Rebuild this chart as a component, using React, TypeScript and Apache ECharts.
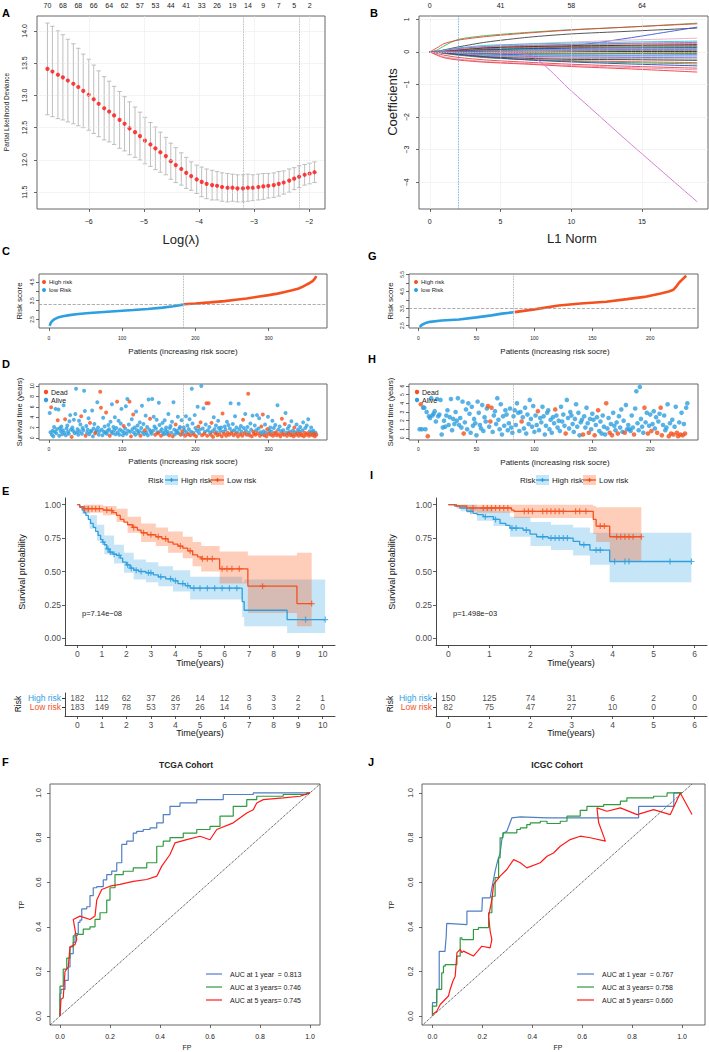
import React, { useEffect, useRef } from "react";
import * as echarts from "echarts";

const FONT = "'Liberation Sans', Arial, Helvetica, sans-serif";
const RED = "#F4511E";
const BLUE = "#2E9FDF";
const MINUS = "\u2212";

// ---------------- A : cross-validation ----------------
const logLambda = [
  -6.75, -6.66, -6.56, -6.47, -6.38, -6.28, -6.19, -6.1, -6.0, -5.91,
  -5.82, -5.72, -5.63, -5.54, -5.44, -5.35, -5.26, -5.16, -5.07, -4.98,
  -4.88, -4.79, -4.7, -4.6, -4.51, -4.42, -4.32, -4.23, -4.14, -4.04,
  -3.95, -3.86, -3.76, -3.67, -3.58, -3.48, -3.39, -3.3, -3.2, -3.11,
  -3.02, -2.92, -2.83, -2.74, -2.64, -2.55, -2.46, -2.36, -2.27, -2.18,
  -2.08, -1.99, -1.9,
];
const cvMean = [
  13.41, 13.37, 13.32, 13.28, 13.23, 13.18, 13.13, 13.07, 13.01, 12.94,
  12.87, 12.8, 12.75, 12.69, 12.62, 12.56, 12.49, 12.43, 12.37, 12.3,
  12.24, 12.18, 12.12, 12.06, 11.98, 11.92, 11.86, 11.8, 11.75, 11.7,
  11.66, 11.63, 11.61, 11.6, 11.58, 11.57, 11.57, 11.56, 11.56, 11.57,
  11.57, 11.58, 11.59, 11.6, 11.61, 11.63, 11.65, 11.68, 11.71, 11.74,
  11.77, 11.79, 11.81,
];
const cvSD = [
  0.71, 0.7, 0.68, 0.66, 0.64, 0.62, 0.6, 0.57, 0.55, 0.53,
  0.51, 0.49, 0.47, 0.45, 0.44, 0.42, 0.41, 0.39, 0.37, 0.36,
  0.34, 0.33, 0.31, 0.29, 0.28, 0.27, 0.25, 0.24, 0.22, 0.22,
  0.23, 0.23, 0.23, 0.22, 0.22, 0.22, 0.21, 0.21, 0.21, 0.21,
  0.2, 0.2, 0.2, 0.19, 0.19, 0.19, 0.18, 0.18, 0.17, 0.17,
  0.16, 0.16, 0.16,
];
const dfTop = ["70", "68", "68", "66", "64", "62", "57", "53", "44", "41", "33", "26", "19", "14", "9", "7", "5", "2"];
const aXTicks = [-6, -5, -4, -3, -2];
const aYTicks = [11.5, 12, 12.5, 13, 13.5, 14];
const lambdaMinLog = -3.2;
const lambda1seLog = -2.18;

// ---------------- B : coefficient paths ----------------
const l1Knots = [0, 0.5, 1, 2, 4, 7, 10, 14, 18.9];
const coefPaths = [
  [0, 0.05, 0.18, 0.38, 0.5, 0.6, 0.68, 0.76, 0.88],
  [0, 0.12, 0.25, 0.36, 0.47, 0.58, 0.67, 0.76, 0.86],
  [0, 0.02, 0.06, 0.15, 0.3, 0.45, 0.55, 0.63, 0.73],
  [0, 0, 0, 0.02, 0.06, 0.1, 0.18, 0.42, 0.76],
  [0, 0, 0.02, 0.08, 0.17, 0.25, 0.3, 0.36, 0.42],
  [0, 0.01, 0.05, 0.12, 0.2, 0.24, 0.27, 0.3, 0.33],
  [0, 0, 0.03, 0.1, 0.16, 0.2, 0.23, 0.26, 0.29],
  [0, 0, 0.02, 0.07, 0.14, 0.19, 0.21, 0.24, 0.26],
  [0, 0, 0.01, 0.05, 0.12, 0.16, 0.18, 0.2, 0.22],
  [0, 0, 0.01, 0.04, 0.1, 0.14, 0.16, 0.18, 0.19],
  [0, 0, 0, 0.03, 0.08, 0.11, 0.13, 0.15, 0.16],
  [0, 0, 0, 0.02, 0.06, 0.09, 0.11, 0.12, 0.13],
  [0, 0, 0, 0.01, 0.04, 0.07, 0.08, 0.09, 0.1],
  [0, 0, 0, 0.01, 0.03, 0.05, 0.06, 0.07, 0.07],
  [0, 0, 0, 0, 0.02, 0.03, 0.04, 0.04, 0.04],
  [0, 0, 0, 0, -0.01, -0.01, 0, 0.01, 0.01],
  [0, 0, 0, -0.01, -0.03, -0.04, -0.04, -0.03, -0.02],
  [0, 0, 0, -0.02, -0.05, -0.06, -0.06, -0.05, -0.05],
  [0, 0, -0.01, -0.03, -0.07, -0.09, -0.1, -0.1, -0.09],
  [0, 0, -0.01, -0.04, -0.09, -0.12, -0.13, -0.13, -0.13],
  [0, 0, -0.01, -0.05, -0.11, -0.14, -0.16, -0.17, -0.18],
  [0, 0, -0.02, -0.06, -0.12, -0.17, -0.2, -0.21, -0.22],
  [0, -0.01, -0.03, -0.08, -0.15, -0.2, -0.23, -0.24, -0.26],
  [0, -0.01, -0.04, -0.09, -0.17, -0.23, -0.27, -0.3, -0.33],
  [0, -0.01, -0.05, -0.1, -0.18, -0.24, -0.29, -0.33, -0.37],
  [0, 0, -0.03, -0.08, -0.16, -0.25, -0.31, -0.37, -0.43],
  [0, -0.05, -0.1, -0.17, -0.25, -0.32, -0.38, -0.44, -0.5],
  [0, -0.08, -0.15, -0.22, -0.3, -0.36, -0.42, -0.48, -0.55],
  [0, -0.1, -0.18, -0.25, -0.32, -0.38, -0.45, -0.52, -0.62],
  [0, 0, 0, 0, -0.02, -0.1, -1.2, -2.75, -4.6],
];
const coefColors = [
  "#3DB84A", "#E8403A", "#444444", "#3355DD", "#E8A8C0", "#2BBEDD", "#B94FC0", "#9A9A9A",
  "#111111", "#E03A3A", "#2E9E3E", "#1F2F9F", "#27B3D3", "#C050C0", "#888888", "#222222",
  "#E0453F", "#2F9A3A", "#3050D0", "#30C0E0", "#B050B8", "#A0A0A0", "#333333", "#E64A4A",
  "#35A845", "#2A3FB8", "#EE4040", "#E090C0", "#F03838", "#D070D0",
];
const bXTicks = [0, 5, 10, 15];
const bYTicks = [-4, -3, -2, -1, 0, 1];
const l1TopAt = [0, 5, 10, 15];
const l1TopLabels = ["0", "41", "58", "64"];
const l1Selected = 2.0;

// ---------------- C / G : risk score curves ----------------
const tcgaLowScore = [[1, 2.15], [2, 2.28], [4, 2.4], [7, 2.5], [12, 2.6], [19, 2.67], [28, 2.73], [40, 2.79], [55, 2.84], [75, 2.9], [95, 2.95], [115, 3.0], [135, 3.06], [155, 3.13], [170, 3.2], [183, 3.29]];
const tcgaHighScore = [[184, 3.31], [200, 3.35], [220, 3.41], [240, 3.48], [255, 3.55], [270, 3.62], [285, 3.71], [300, 3.8], [312, 3.88], [322, 3.97], [332, 4.06], [340, 4.14], [346, 4.24], [351, 4.35], [356, 4.45], [360, 4.55], [363, 4.68], [365, 4.82]];
const tcgaCut = 3.3;
const tcgaSplit = 183;
const icgcLowScore = [[1, 2.42], [3, 2.55], [6, 2.65], [10, 2.72], [20, 2.8], [35, 2.86], [50, 2.98], [63, 3.1], [72, 3.2], [82, 3.28]];
const icgcHighScore = [[83, 3.29], [100, 3.45], [121, 3.68], [140, 3.79], [162, 3.9], [180, 4.05], [195, 4.18], [209, 4.38], [216, 4.5], [220, 4.6], [222, 4.75], [225, 5.02], [228, 5.22], [231, 5.42]];
const icgcCut = 3.5;
const icgcSplit = 82;

// ---------------- D / H : survival status ----------------
const tcgaTime = [
  4.8, 1.1, 5.9, 0.6, 1.4, 0.3, 2.1, 1.2, 5.6, 0.9, 1.7, 3.4, 5.5, 0.4, 1.9, 1.3, 2.2, 0.7, 1.5, 6.3,
  1.0, 3.6, 0.5, 1.8, 2.4, 1.2, 0.8, 3.2, 4.4, 1.6, 0.2, 2.0, 1.4, 3.5, 0.9, 4.6, 9.5, 1.1, 1.7, 0.6,
  3.3, 1.3, 2.6, 4.2, 0.8, 1.9, 1.5, 9.1, 5.2, 0.4, 2.3, 1.0, 1.6, 3.8, 0.7, 2.9, 1.2, 1.4, 5.3, 0.3,
  1.8, 2.7, 0.9, 1.1, 1.5, 6.9, 2.0, 0.6, 1.3, 8.9, 5.8, 1.6, 0.5, 3.9, 1.2, 2.2, 1.0, 4.9, 0.8, 1.4,
  2.5, 1.7, 0.4, 3.1, 1.2, 6.5, 0.9, 2.1, 1.5, 4.0, 0.7, 1.9, 7.0, 1.1, 3.3, 0.6, 1.6, 2.8, 5.6, 1.3,
  0.5, 2.3, 1.0, 1.8, 6.1, 0.8, 7.5, 1.4, 2.6, 7.0, 1.2, 0.3, 3.6, 1.7, 4.5, 1.0, 2.0, 0.6, 5.1, 1.5,
  2.4, 0.9, 1.3, 3.0, 0.4, 1.9, 6.2, 1.1, 2.7, 0.7, 1.5, 4.3, 1.0, 2.1, 0.5, 7.4, 1.6, 3.7, 1.2, 0.8,
  7.5, 1.4, 4.1, 2.2, 0.6, 1.8, 3.5, 1.1, 0.9, 6.8, 2.5, 1.3, 0.4, 1.7, 2.9, 1.0, 0.7, 3.4, 1.5, 2.0,
  0.8, 1.2, 4.6, 0.5, 1.9, 2.3, 1.0, 3.1, 0.3, 6.9, 1.6, 0.7, 2.6, 1.4, 1.1, 4.1, 0.9, 1.8, 2.1, 0.6,
  3.4, 1.3, 0.8, 2.0, 1.5, 0.4, 4.2, 1.1, 2.4, 0.7, 1.7, 3.6, 0.5, 1.2, 9.5, 2.8, 1.0, 0.6, 4.4, 1.9,
  0.3, 1.4, 6.0, 2.2, 0.9, 1.6, 3.0, 10.0, 0.5, 1.8, 5.7, 0.8, 1.2, 2.6, 6.7, 0.4, 1.5, 6.7, 2.1, 1.0,
  0.6, 2.9, 1.3, 0.2, 4.0, 1.7, 0.9, 2.4, 1.1, 0.5, 3.3, 1.9, 0.7, 1.4, 2.0, 0.3, 4.7, 1.2, 0.8, 2.2,
  1.6, 0.4, 3.1, 1.0, 2.5, 0.6, 1.8, 6.7, 0.9, 1.3, 2.7, 0.5, 1.5, 4.2, 0.8, 2.0, 1.1, 0.3, 6.6, 1.7,
  0.7, 2.3, 1.2, 0.4, 3.5, 1.9, 0.9, 4.6, 1.4, 0.6, 2.1, 8.5, 1.0, 0.5, 2.8, 1.6, 0.3, 4.3, 1.2, 0.8,
  2.4, 0.6, 1.5, 4.4, 0.9, 1.8, 3.8, 0.4, 1.1, 2.2, 0.7, 4.5, 1.3, 0.5, 2.6, 1.0, 0.3, 1.7, 4.1, 0.8,
  1.4, 2.0, 0.6, 1.2, 3.3, 0.4, 1.9, 0.9, 2.5, 1.1, 0.5, 6.3, 1.6, 0.7, 2.2, 0.3, 1.3, 3.7, 0.8, 1.5,
  0.6, 2.7, 4.8, 1.0, 0.4, 1.8, 0.9, 2.3, 1.2, 0.5, 3.2, 0.7, 1.4, 0.3, 2.0, 1.1, 0.6, 2.6, 0.9, 1.6,
  0.4, 1.2, 2.1, 0.8, 0.5, 1.5, 3.0, 0.3, 1.0, 1.9, 0.6, 2.4, 0.9, 3.6, 0.4, 1.3, 0.7, 2.0, 1.1, 0.5,
  1.4, 0.8, 0.3, 1.0, 0.6,
];
const tcgaDead = [
  3, 12, 22, 31, 44, 50, 56, 63, 70, 71, 78, 83, 93, 102, 110, 112, 115, 125, 131, 138, 145, 149, 153,
  164, 169, 173, 180, 182, 186, 190, 193, 198, 201, 204, 207, 209, 212, 215, 216, 218, 221, 222, 224,
  227, 230, 233, 236, 237, 239, 242, 244, 246, 249, 252, 255, 258, 261, 264, 265, 267, 270, 272, 274,
  277, 279, 280, 282, 285, 288, 290, 292, 294, 297, 298, 300, 303, 306, 308, 310, 311, 314, 316, 318,
  319, 321, 322, 325, 327, 330, 332, 334, 335, 337, 339, 341, 344, 345, 348, 349, 351, 353, 355, 357,
  360, 362, 363, 365,
];
const icgcTime = [
  1.0, 3.9, 1.0, 3.5, 3.5, 1.0, 3.0, 0.2, 2.5, 2.3, 4.6, 2.6, 2.8, 3.1, 1.9, 4.5, 2.5, 2.7, 4.4, 0.4,
  1.2, 2.0, 1.3, 2.6, 3.2, 1.5, 2.4, 4.5, 0.9, 2.2, 1.6, 3.0, 2.0, 4.6, 1.5, 2.3, 1.2, 4.2, 0.5, 1.8,
  3.3, 1.0, 4.0, 2.8, 0.6, 3.6, 1.4, 2.2, 1.7, 0.3, 4.2, 2.9, 1.5, 1.1, 3.8, 0.8, 2.4, 1.9, 3.4, 3.7,
  1.3, 1.9, 3.5, 0.7, 2.6, 3.1, 1.6, 4.6, 2.1, 1.0, 3.9, 0.4, 2.5, 1.4, 3.2, 2.7, 0.9, 1.7, 3.4, 1.2,
  0.6, 2.5, 3.2, 1.5, 4.0, 2.9, 0.8, 3.0, 1.9, 2.4, 1.1, 3.5, 0.5, 2.7, 1.6, 4.4, 2.2, 1.3, 3.7, 0.7,
  2.6, 1.5, 3.1, 0.9, 2.3, 1.8, 3.6, 2.5, 0.4, 1.4, 2.9, 3.2, 1.0, 2.1, 0.6, 2.4, 1.7, 3.3, 2.6, 1.2,
  2.0, 0.8, 3.6, 1.9, 2.7, 1.4, 0.5, 4.4, 2.3, 1.1, 3.0, 2.6, 1.6, 0.7, 2.2, 3.9, 1.3, 2.9, 0.3, 1.8,
  2.1, 0.4, 2.5, 1.2, 3.5, 1.7, 0.6, 2.2, 1.0, 2.8, 2.1, 0.3, 1.5, 2.4, 3.2, 0.8, 1.9, 0.5, 2.6, 1.3,
  0.4, 4.0, 1.1, 2.3, 0.6, 1.6, 0.3, 2.9, 1.4, 0.9, 1.8, 0.5, 2.5, 1.2, 3.3, 0.7, 2.0, 0.6, 3.8, 1.0,
  1.5, 1.0, 0.8, 2.6, 1.2, 0.4, 3.4, 5.4, 1.7, 0.9, 5.9, 2.2, 1.3, 0.6, 3.5, 1.8, 2.9, 0.5, 1.4, 2.7,
  0.8, 1.6, 3.1, 1.1, 2.4, 0.6, 1.9, 2.8, 3.5, 0.3, 1.5, 2.6, 0.9, 1.2, 3.9, 0.2, 1.7, 0.5, 2.1, 0.4,
  1.3, 3.6, 0.6, 0.2, 1.8, 0.4, 2.9, 0.3, 1.6, 0.5, 3.5, 4.0,
];
const icgcDead = [
  2, 8, 39, 60, 62, 63, 89, 103, 118, 127, 142, 147, 152, 155, 162, 165, 167, 172, 178, 186, 195,
  198, 201, 206, 209, 210, 216, 218, 220, 223, 224, 226, 228, 230,
];

// ---------------- E / I : Kaplan-Meier ----------------
const tcgaHighKM = [[0, 1], [0.1, 0.98], [0.2, 0.96], [0.27, 0.94], [0.35, 0.92], [0.45, 0.89], [0.54, 0.86], [0.65, 0.83], [0.75, 0.8], [0.85, 0.77], [0.95, 0.74], [1.02, 0.72], [1.1, 0.7], [1.2, 0.67], [1.3, 0.645], [1.45, 0.63], [1.6, 0.62], [1.75, 0.6], [1.85, 0.57], [2.0, 0.55], [2.15, 0.525], [2.3, 0.51], [2.5, 0.5], [2.8, 0.49], [3.1, 0.475], [3.3, 0.46], [3.6, 0.445], [3.9, 0.43], [4.1, 0.41], [4.4, 0.395], [4.6, 0.375], [6.72, 0.275], [6.8, 0.21], [8.55, 0.14], [10.1, 0.14]];
const tcgaLowKM = [[0, 1], [0.1, 0.985], [0.25, 0.97], [1.05, 0.96], [1.3, 0.955], [1.45, 0.94], [1.6, 0.92], [1.75, 0.89], [1.9, 0.87], [2.05, 0.85], [2.25, 0.83], [2.45, 0.81], [2.6, 0.79], [2.85, 0.775], [3.2, 0.76], [3.45, 0.745], [3.7, 0.72], [3.9, 0.705], [4.1, 0.69], [4.3, 0.675], [4.5, 0.655], [4.7, 0.625], [4.9, 0.61], [5.05, 0.595], [5.8, 0.52], [6.95, 0.39], [8.95, 0.26], [9.55, 0.26]];
const tcgaHighCens = [[1.05, 0.72], [1.25, 0.67], [1.35, 0.645], [1.5, 0.63], [1.7, 0.62], [2.05, 0.55], [2.2, 0.525], [2.4, 0.51], [2.6, 0.5], [2.9, 0.49], [3.0, 0.49], [3.4, 0.46], [3.8, 0.445], [4.0, 0.43], [4.3, 0.41], [4.5, 0.395], [4.75, 0.375], [5.0, 0.375], [5.3, 0.375], [5.6, 0.375], [5.9, 0.375], [6.2, 0.375], [6.5, 0.375], [9.3, 0.14], [10.1, 0.14]];
const tcgaLowCens = [[0.3, 0.97], [0.45, 0.97], [0.6, 0.97], [0.75, 0.97], [0.9, 0.97], [1.2, 0.96], [1.4, 0.955], [2.3, 0.83], [2.7, 0.79], [3.0, 0.775], [3.3, 0.76], [3.6, 0.745], [4.2, 0.69], [4.6, 0.655], [5.1, 0.595], [5.3, 0.595], [5.5, 0.595], [5.9, 0.52], [6.1, 0.52], [6.3, 0.52], [6.6, 0.52], [7.55, 0.39], [9.55, 0.26]];
const tcgaHighBand = [[0, 1, 1], [0.2, 0.93, 0.99], [0.5, 0.82, 0.92], [0.8, 0.73, 0.85], [1.1, 0.63, 0.77], [1.5, 0.56, 0.7], [1.9, 0.49, 0.64], [2.3, 0.44, 0.59], [2.8, 0.42, 0.57], [3.3, 0.39, 0.54], [3.9, 0.35, 0.51], [4.6, 0.29, 0.46], [6.72, 0.16, 0.42], [6.8, 0.09, 0.44], [8.55, 0.04, 0.44], [10.1, 0.04, 0.44]];
const tcgaLowBand = [[0, 1, 1], [0.25, 0.94, 1.0], [1.05, 0.92, 0.99], [1.6, 0.87, 0.97], [2.05, 0.79, 0.91], [2.6, 0.72, 0.86], [3.2, 0.69, 0.83], [3.7, 0.64, 0.8], [4.3, 0.6, 0.76], [4.7, 0.54, 0.72], [5.05, 0.5, 0.69], [5.8, 0.41, 0.65], [6.95, 0.19, 0.62], [8.95, 0.09, 0.64], [9.55, 0.09, 0.64]];
const icgcHighKM = [[0, 1], [0.15, 0.99], [0.28, 0.975], [0.45, 0.95], [0.6, 0.935], [0.7, 0.925], [0.85, 0.91], [1.1, 0.89], [1.26, 0.86], [1.4, 0.845], [1.5, 0.825], [1.82, 0.81], [1.99, 0.78], [2.15, 0.76], [2.43, 0.75], [3.04, 0.725], [3.2, 0.7], [3.45, 0.66], [3.93, 0.575], [5.92, 0.575]];
const icgcLowKM = [[0, 1], [0.2, 0.99], [0.45, 0.975], [1.54, 0.96], [1.6, 0.95], [3.53, 0.89], [3.6, 0.84], [3.93, 0.76], [4.7, 0.76]];
const icgcHighCens = [[0.55, 0.95], [0.9, 0.91], [1.15, 0.89], [1.55, 0.825], [1.65, 0.825], [1.9, 0.81], [2.3, 0.76], [2.5, 0.75], [2.6, 0.75], [2.7, 0.75], [2.8, 0.75], [2.9, 0.75], [3.3, 0.7], [3.6, 0.66], [3.7, 0.66], [4.05, 0.575], [4.3, 0.575], [4.4, 0.575], [5.4, 0.575], [5.92, 0.575]];
const icgcLowCens = [[0.6, 0.975], [0.85, 0.975], [0.95, 0.975], [1.05, 0.975], [1.15, 0.975], [1.25, 0.975], [1.35, 0.975], [1.45, 0.975], [1.85, 0.95], [1.95, 0.95], [2.05, 0.95], [2.3, 0.95], [2.4, 0.95], [2.5, 0.95], [2.6, 0.95], [2.7, 0.95], [2.8, 0.95], [3.1, 0.95], [3.2, 0.95], [3.35, 0.95], [3.7, 0.84], [3.8, 0.84], [4.1, 0.76], [4.2, 0.76], [4.3, 0.76], [4.4, 0.76], [4.5, 0.76], [4.7, 0.76]];
const icgcHighBand = [[0, 1, 1], [0.3, 0.95, 1.0], [0.7, 0.88, 0.98], [1.1, 0.84, 0.95], [1.5, 0.76, 0.91], [2.0, 0.69, 0.87], [2.5, 0.66, 0.85], [3.04, 0.62, 0.83], [3.45, 0.55, 0.79], [3.93, 0.42, 0.79], [5.92, 0.42, 0.79]];
const icgcLowBand = [[0, 1, 1], [0.2, 0.97, 1.0], [0.45, 0.94, 1.0], [1.6, 0.9, 1.0], [3.53, 0.78, 0.99], [3.6, 0.72, 0.98], [3.93, 0.58, 0.98], [4.7, 0.58, 0.98]];
const tcgaP = "p=7.14e\u221208";
const icgcP = "p=1.498e\u221203";

const tcgaTableTimes = [0, 1, 2, 3, 4, 5, 6, 7, 8, 9, 10];
const tcgaHighRisk = [182, 112, 62, 37, 26, 14, 12, 3, 3, 2, 1];
const tcgaLowRisk = [183, 149, 78, 53, 37, 26, 14, 6, 3, 2, 0];
const icgcTableTimes = [0, 1, 2, 3, 4, 5, 6];
const icgcHighRisk = [150, 125, 74, 31, 6, 2, 0];
const icgcLowRisk = [82, 75, 47, 27, 10, 0, 0];
const kmYTicks = [0, 0.25, 0.5, 0.75, 1];

// ---------------- F / J : ROC ----------------
const tcgaRoc1 = [[0, 0], [0, 0.045], [0.004, 0.1], [0.02, 0.12], [0.033, 0.16], [0.04, 0.22], [0.053, 0.28], [0.06, 0.33], [0.073, 0.37], [0.08, 0.42], [0.087, 0.43], [0.107, 0.48], [0.12, 0.49], [0.133, 0.54], [0.147, 0.575], [0.173, 0.58], [0.187, 0.61], [0.207, 0.634], [0.227, 0.65], [0.247, 0.687], [0.267, 0.769], [0.293, 0.784], [0.307, 0.82], [0.333, 0.828], [0.36, 0.836], [0.387, 0.843], [0.413, 0.866], [0.44, 0.903], [0.48, 0.94], [0.547, 0.955], [0.587, 0.97], [0.653, 0.97], [0.68, 0.993], [0.773, 0.993], [0.81, 1.0], [1, 1]];
const tcgaRoc3 = [[0, 0], [0, 0.07], [0.013, 0.134], [0.027, 0.21], [0.04, 0.26], [0.053, 0.31], [0.069, 0.36], [0.093, 0.366], [0.12, 0.39], [0.14, 0.4], [0.16, 0.433], [0.187, 0.463], [0.2, 0.52], [0.22, 0.575], [0.253, 0.634], [0.293, 0.649], [0.347, 0.664], [0.387, 0.687], [0.413, 0.761], [0.44, 0.784], [0.493, 0.8], [0.547, 0.82], [0.6, 0.836], [0.64, 0.85], [0.693, 0.896], [0.747, 0.94], [0.787, 0.97], [0.893, 0.985], [0.987, 0.993], [1, 1]];
const tcgaRoc5 = [[0, 0], [0.004, 0.075], [0.013, 0.082], [0.02, 0.2], [0.033, 0.22], [0.04, 0.31], [0.06, 0.32], [0.067, 0.343], [0.053, 0.433], [0.08, 0.448], [0.12, 0.433], [0.14, 0.448], [0.147, 0.52], [0.167, 0.567], [0.2, 0.582], [0.24, 0.59], [0.293, 0.604], [0.347, 0.612], [0.387, 0.627], [0.407, 0.672], [0.44, 0.724], [0.46, 0.776], [0.507, 0.791], [0.56, 0.806], [0.6, 0.79], [0.627, 0.836], [0.693, 0.866], [0.747, 0.91], [0.773, 0.925], [0.787, 0.955], [0.813, 0.97], [0.893, 0.978], [0.96, 0.985], [1, 1]];
const icgcRoc1 = [[0, 0], [0, 0.06], [0.017, 0.06], [0.017, 0.12], [0.027, 0.12], [0.027, 0.29], [0.05, 0.29], [0.055, 0.358], [0.057, 0.415], [0.138, 0.41], [0.138, 0.47], [0.198, 0.47], [0.2, 0.53], [0.231, 0.53], [0.238, 0.575], [0.251, 0.65], [0.262, 0.7], [0.271, 0.73], [0.278, 0.79], [0.285, 0.82], [0.298, 0.828], [0.318, 0.888], [0.352, 0.893], [0.459, 0.888], [0.592, 0.888], [0.826, 0.888], [0.826, 0.94], [0.967, 0.94], [0.967, 1.0], [1, 1]];
const icgcRoc3 = [[0, 0], [0, 0.015], [0.017, 0.045], [0.037, 0.12], [0.044, 0.194], [0.051, 0.224], [0.098, 0.231], [0.111, 0.269], [0.118, 0.351], [0.164, 0.343], [0.184, 0.388], [0.225, 0.396], [0.238, 0.463], [0.251, 0.537], [0.265, 0.62], [0.271, 0.709], [0.282, 0.799], [0.305, 0.821], [0.338, 0.821], [0.352, 0.836], [0.378, 0.843], [0.392, 0.858], [0.432, 0.866], [0.459, 0.873], [0.512, 0.863], [0.539, 0.873], [0.592, 0.896], [0.619, 0.922], [0.686, 0.94], [0.753, 0.948], [0.779, 0.963], [0.833, 0.978], [0.886, 0.978], [0.94, 0.985], [0.967, 1.0], [1, 1]];
const icgcRoc5 = [[0, 0.007], [0.017, 0.022], [0.031, 0.052], [0.064, 0.09], [0.071, 0.12], [0.082, 0.157], [0.091, 0.179], [0.098, 0.284], [0.111, 0.299], [0.118, 0.284], [0.124, 0.291], [0.164, 0.269], [0.198, 0.313], [0.231, 0.306], [0.238, 0.343], [0.231, 0.381], [0.225, 0.448], [0.238, 0.522], [0.245, 0.59], [0.271, 0.627], [0.298, 0.657], [0.325, 0.701], [0.352, 0.687], [0.378, 0.664], [0.432, 0.687], [0.459, 0.716], [0.485, 0.731], [0.512, 0.761], [0.552, 0.791], [0.592, 0.806], [0.632, 0.799], [0.693, 0.784], [0.666, 0.866], [0.659, 0.933], [0.699, 0.918], [0.753, 0.933], [0.82, 0.903], [0.886, 0.925], [0.953, 0.903], [0.993, 1.0], [1.04, 0.903]];
const tcgaAuc = ["AUC at 1 year  = 0.813", "AUC at 3 years= 0.746", "AUC at 5 years= 0.745"];
const icgcAuc = ["AUC at 1 year  = 0.767", "AUC at 3 years= 0.758", "AUC at 5 years= 0.660"];
const rocTicks = [0, 0.2, 0.4, 0.6, 0.8, 1.0];
const ROC_COLORS = ["#4F7FC4", "#2E9B3E", "#FF1A1A"];

function buildOption() {
  const pm = (v: number) => (v < 0 ? MINUS + Math.abs(v) : String(v));

  const rAxis = (gi: number, min: number, max: number, ticks: number[], o: any = {}) => {
    const ax: any = {
      type: "value", gridIndex: gi, min, max,
      axisLine: { show: false, onZero: false },
      splitLine: { show: false },
      axisTick: { show: o.tick !== false, customValues: ticks, length: o.tickLen ?? 3, lineStyle: { color: "#444", width: 0.8 } },
      axisLabel: { customValues: o.labels ?? ticks, fontSize: o.fs ?? 7, color: "#222", margin: o.margin ?? 8, fontFamily: FONT, rotate: o.rotate ?? 0, hideOverlap: false },
    };
    if (o.fmt) ax.axisLabel.formatter = o.fmt;
    if (o.position) ax.position = o.position;
    return ax;
  };
  const topAxis = (gi: number, min: number, max: number, at: number[], labels: string[]) => ({
    type: "value", gridIndex: gi, min, max, position: "top",
    axisLine: { show: false, onZero: false }, splitLine: { show: false }, axisTick: { show: false },
    axisLabel: {
      customValues: at, fontSize: 7, color: "#222", margin: 7, fontFamily: FONT, hideOverlap: false,
      formatter: (v: number) => {
        const i = at.findIndex((a) => Math.abs(a - v) < 1e-6);
        return i >= 0 ? labels[i] : "";
      },
    },
  });
  const kAxis = (gi: number, min: number, max: number, ticks: number[], o: any = {}) => {
    const ax: any = {
      type: "value", gridIndex: gi, min, max,
      axisLine: { show: true, onZero: false, lineStyle: { color: "#333", width: 0.9 } },
      splitLine: { show: false },
      axisTick: { show: true, customValues: ticks, length: 3, lineStyle: { color: "#333", width: 0.8 } },
      axisLabel: { customValues: ticks, fontSize: 8.5, color: "#4D4D4D", margin: o.margin ?? 4, fontFamily: FONT, hideOverlap: false },
    };
    if (o.fmt) ax.axisLabel.formatter = o.fmt;
    return ax;
  };
  const tableY = (gi: number) => ({
    type: "value", gridIndex: gi, min: 0, max: 2.6,
    axisLine: { show: true, onZero: false, lineStyle: { color: "#333", width: 0.9 } },
    axisTick: { show: true, customValues: [1, 2], length: 3, lineStyle: { color: "#333" } },
    splitLine: { show: false },
    axisLabel: {
      customValues: [1, 2], margin: 4, fontFamily: FONT, fontSize: 8.5,
      formatter: (v: number) => (v === 2 ? "{h|High risk}" : "{l|Low risk}"),
      rich: { h: { color: BLUE, fontSize: 8.5, fontFamily: FONT }, l: { color: RED, fontSize: 8.5, fontFamily: FONT } },
    },
  });

  const boxed = { show: true, borderColor: "#666", borderWidth: 1, backgroundColor: "transparent" };
  const grid = [
    { left: 37, top: 16, width: 288, height: 193, ...boxed },
    { left: 419, top: 16, width: 289, height: 193, ...boxed },
    { left: 39, top: 274, width: 288, height: 54, ...boxed },
    { left: 409, top: 274, width: 289, height: 54, ...boxed },
    { left: 39, top: 384, width: 288, height: 56, ...boxed },
    { left: 409, top: 384, width: 289, height: 56, ...boxed },
    { left: 65, top: 498, width: 270, height: 147 },
    { left: 436, top: 498, width: 271, height: 147 },
    { left: 65, top: 693, width: 270, height: 23 },
    { left: 436, top: 693, width: 271, height: 23 },
    { left: 50, top: 784, width: 270, height: 241, ...boxed },
    { left: 422, top: 784, width: 283, height: 241, ...boxed },
  ];

  const dfTopAt = dfTop.map((_, i) => logLambda[i * 3]);
  const f1 = (v: number) => v.toFixed(1);
  const f2 = (v: number) => v.toFixed(2);

  const xAxis = [
    rAxis(0, -6.94, -1.71, aXTicks, { fmt: pm, margin: 9 }),
    topAxis(0, -6.94, -1.71, dfTopAt, dfTop),
    rAxis(1, -0.76, 19.66, bXTicks, { margin: 9 }),
    topAxis(1, -0.76, 19.66, l1TopAt, l1TopLabels),
    rAxis(2, -13.6, 379.6, [0, 100, 200, 300], { fs: 5, margin: 7 }),
    rAxis(3, -8.2, 241.2, [0, 50, 100, 150, 200], { fs: 5, margin: 7 }),
    rAxis(4, -13.6, 379.6, [0, 100, 200, 300], { fs: 5, margin: 6 }),
    rAxis(5, -8.2, 241.2, [0, 50, 100, 150, 200], { fs: 5, margin: 6 }),
    kAxis(6, -0.5, 10.5, tcgaTableTimes),
    kAxis(7, -0.3, 6.3, icgcTableTimes),
    kAxis(8, -0.5, 10.5, tcgaTableTimes),
    kAxis(9, -0.3, 6.3, icgcTableTimes),
    rAxis(10, -0.04, 1.04, rocTicks, { fmt: f1, margin: 8 }),
    rAxis(11, -0.042, 1.092, rocTicks, { fmt: f1, margin: 8 }),
  ];
  const yAxis = [
    rAxis(0, 11.24, 14.23, aYTicks, { rotate: 90, fmt: f1, margin: 9 }),
    rAxis(1, -4.82, 1.1, bYTicks, { rotate: 90, fmt: pm, margin: 9 }),
    rAxis(2, 2.04, 4.93, [2.5, 3, 3.5, 4, 4.5], { labels: [2.5, 3.5, 4.5], rotate: 90, fs: 5, margin: 5, fmt: f1 }),
    rAxis(3, 2.36, 5.52, [2.5, 3, 3.5, 4, 4.5, 5, 5.5], { labels: [2.5, 3.5, 4.5, 5.5], rotate: 90, fs: 5, margin: 5, fmt: f1 }),
    rAxis(4, -0.4, 10.4, [0, 2, 4, 6, 8, 10], { rotate: 90, fs: 5, margin: 5 }),
    rAxis(5, -0.24, 6.24, [0, 1, 2, 3, 4, 5, 6], { rotate: 90, fs: 5, margin: 5 }),
    kAxis(6, -0.05, 1.05, kmYTicks, { fmt: f2 }),
    kAxis(7, -0.05, 1.05, kmYTicks, { fmt: f2 }),
    tableY(8),
    tableY(9),
    rAxis(10, -0.04, 1.04, rocTicks, { rotate: 90, fmt: f1, margin: 8 }),
    rAxis(11, -0.04, 1.04, rocTicks, { rotate: 90, fmt: f1, margin: 8 }),
  ];

  const vline = (x: number, color: string, type = "dotted", width = 0.8) => ({ xAxis: x, lineStyle: { color, type, width } });
  const hline = (y: number, color: string, type = "dotted", width = 0.8) => ({ yAxis: y, lineStyle: { color, type, width } });
  const mark = (data: any[]) => ({ silent: true, symbol: ["none", "none"], label: { show: false }, lineStyle: { color: "#ddd", type: "dotted", width: 0.8 }, emphasis: { disabled: true }, data });

  const series: any[] = [];

  // A
  series.push({
    type: "custom", xAxisIndex: 0, yAxisIndex: 0, silent: true, z: 3,
    data: logLambda.map((x, i) => [x, cvMean[i] + cvSD[i], cvMean[i] - cvSD[i]]),
    encode: { x: 0, y: [1, 2] },
    renderItem: (params: any, api: any) => {
      const x = api.value(0);
      const p1 = api.coord([x, api.value(1)]);
      const p2 = api.coord([x, api.value(2)]);
      const w = 2.2;
      const st = { stroke: "#B8B8B8", lineWidth: 0.9 };
      return {
        type: "group",
        children: [
          { type: "line", shape: { x1: p1[0], y1: p1[1], x2: p2[0], y2: p2[1] }, style: st },
          { type: "line", shape: { x1: p1[0] - w, y1: p1[1], x2: p1[0] + w, y2: p1[1] }, style: st },
          { type: "line", shape: { x1: p2[0] - w, y1: p2[1], x2: p2[0] + w, y2: p2[1] }, style: st },
        ],
      };
    },
  });
  series.push({
    type: "scatter", xAxisIndex: 0, yAxisIndex: 0, symbolSize: 4.2, z: 4, silent: true,
    itemStyle: { color: "#FF1010" },
    data: logLambda.map((x, i) => [x, cvMean[i]]),
    markLine: mark([
      ...aXTicks.map((x) => vline(x, "#E2E2E2")),
      ...aYTicks.map((y) => hline(y, "#E2E2E2")),
      vline(lambdaMinLog, "#9A9A9A"),
      vline(lambda1seLog, "#9A9A9A"),
    ]),
  });

  // B
  coefPaths.forEach((p, k) => {
    const s: any = {
      type: "line", xAxisIndex: 2, yAxisIndex: 1, showSymbol: false, silent: true, smooth: 0.25,
      lineStyle: { color: coefColors[k], width: 0.9 },
      data: l1Knots.map((x, i) => [x, p[i]]),
    };
    if (k === 0) {
      s.markLine = mark([
        ...bXTicks.map((x) => vline(x, "#E2E2E2")),
        ...bYTicks.map((y) => hline(y, "#E2E2E2")),
        vline(l1Selected, "#4A90D9"),
      ]);
    }
    series.push(s);
  });

  // C & G
  const scoreLine = (xi: number, yi: number, data: number[][], color: string, ml?: any) => {
    const s: any = { type: "line", xAxisIndex: xi, yAxisIndex: yi, data, showSymbol: false, silent: true, lineStyle: { color, width: 2.6 } };
    if (ml) s.markLine = ml;
    return s;
  };
  series.push(scoreLine(4, 2, tcgaLowScore, BLUE, mark([vline(tcgaSplit, "#999"), hline(tcgaCut, "#999", "dashed")])));
  series.push(scoreLine(4, 2, tcgaHighScore, RED));
  series.push(scoreLine(5, 3, icgcLowScore, BLUE, mark([vline(icgcSplit, "#999"), hline(icgcCut, "#999", "dashed")])));
  series.push(scoreLine(5, 3, icgcHighScore, RED));

  // D & H
  const statusPts = (times: number[], dead: number[], wantDead: boolean) => {
    const set = new Set(dead);
    return times.map((t, i) => [i + 1, t]).filter((p) => set.has(p[0]) === wantDead);
  };
  series.push({ type: "scatter", xAxisIndex: 6, yAxisIndex: 4, symbolSize: 4, silent: true, itemStyle: { color: BLUE }, data: statusPts(tcgaTime, tcgaDead, false), markLine: mark([vline(tcgaSplit, "#999")]) });
  series.push({ type: "scatter", xAxisIndex: 6, yAxisIndex: 4, symbolSize: 4, silent: true, itemStyle: { color: RED }, data: statusPts(tcgaTime, tcgaDead, true) });
  series.push({ type: "scatter", xAxisIndex: 7, yAxisIndex: 5, symbolSize: 4.6, silent: true, itemStyle: { color: BLUE }, data: statusPts(icgcTime, icgcDead, false), markLine: mark([vline(icgcSplit, "#999")]) });
  series.push({ type: "scatter", xAxisIndex: 7, yAxisIndex: 5, symbolSize: 4.6, silent: true, itemStyle: { color: RED }, data: statusPts(icgcTime, icgcDead, true) });

  // E & I
  const bandSeries = (xi: number, yi: number, band: number[][], fill: string) => ({
    type: "custom", xAxisIndex: xi, yAxisIndex: yi, silent: true, z: 1,
    data: [[0, 0]], encode: { x: 0, y: 1 },
    renderItem: (params: any, api: any) => {
      const up: number[][] = [];
      const lo: number[][] = [];
      for (let i = 0; i < band.length; i++) {
        const [t, l, h] = band[i];
        const tn = i < band.length - 1 ? band[i + 1][0] : t;
        up.push(api.coord([t, h]), api.coord([tn, h]));
        lo.push(api.coord([t, l]), api.coord([tn, l]));
      }
      return { type: "polygon", shape: { points: up.concat(lo.reverse()) }, style: { fill } };
    },
  });
  const kmLine = (xi: number, yi: number, data: number[][], color: string) => ({
    type: "line", xAxisIndex: xi, yAxisIndex: yi, data, step: "end", showSymbol: false, silent: true, z: 3,
    lineStyle: { color, width: 1.3 },
  });
  const PLUS = "path://M4,0H6V4H10V6H6V10H4V6H0V4H4Z";
  const cens = (xi: number, yi: number, data: number[][], color: string) => ({
    type: "scatter", xAxisIndex: xi, yAxisIndex: yi, data, symbol: PLUS, symbolSize: 6, silent: true, z: 4,
    itemStyle: { color },
  });
  const BLUE_BAND = "rgba(46,159,223,0.27)";
  const RED_BAND = "rgba(252,78,7,0.28)";
  series.push(bandSeries(8, 6, tcgaHighBand, BLUE_BAND));
  series.push(bandSeries(8, 6, tcgaLowBand, RED_BAND));
  series.push(kmLine(8, 6, tcgaHighKM, BLUE));
  series.push(kmLine(8, 6, tcgaLowKM, RED));
  series.push(cens(8, 6, tcgaHighCens, BLUE));
  series.push(cens(8, 6, tcgaLowCens, RED));
  series.push(bandSeries(9, 7, icgcHighBand, BLUE_BAND));
  series.push(bandSeries(9, 7, icgcLowBand, RED_BAND));
  series.push(kmLine(9, 7, icgcHighKM, BLUE));
  series.push(kmLine(9, 7, icgcLowKM, RED));
  series.push(cens(9, 7, icgcHighCens, BLUE));
  series.push(cens(9, 7, icgcLowCens, RED));

  // risk tables
  const tableSeries = (xi: number, yi: number, times: number[], counts: number[], row: number) => ({
    type: "scatter", xAxisIndex: xi, yAxisIndex: yi, symbolSize: 1, silent: true,
    itemStyle: { color: "rgba(0,0,0,0)" },
    data: times.map((t, i) => [t, row, counts[i]]),
    label: { show: true, position: "inside", formatter: (p: any) => String(p.value[2]), fontSize: 8.5, color: "#222", fontFamily: FONT },
  });
  series.push(tableSeries(10, 8, tcgaTableTimes, tcgaHighRisk, 2));
  series.push(tableSeries(10, 8, tcgaTableTimes, tcgaLowRisk, 1));
  series.push(tableSeries(11, 9, icgcTableTimes, icgcHighRisk, 2));
  series.push(tableSeries(11, 9, icgcTableTimes, icgcLowRisk, 1));

  // F & J
  const diag = (xi: number, yi: number) => ({
    type: "line", xAxisIndex: xi, yAxisIndex: yi, data: [[-0.04, -0.04], [1.04, 1.04]], showSymbol: false, silent: true,
    lineStyle: { color: "#333", type: "dotted", width: 1 },
  });
  const roc = (xi: number, yi: number, data: number[][], color: string, step: any) => ({
    type: "line", xAxisIndex: xi, yAxisIndex: yi, data, showSymbol: false, silent: true, step,
    lineStyle: { color, width: 1.2 },
  });
  series.push(diag(12, 10));
  series.push(roc(12, 10, tcgaRoc1, ROC_COLORS[0], "start"));
  series.push(roc(12, 10, tcgaRoc3, ROC_COLORS[1], "start"));
  series.push(roc(12, 10, tcgaRoc5, ROC_COLORS[2], false));
  series.push(diag(13, 11));
  series.push(roc(13, 11, icgcRoc1, ROC_COLORS[0], false));
  series.push(roc(13, 11, icgcRoc3, ROC_COLORS[1], "start"));
  series.push(roc(13, 11, icgcRoc5, ROC_COLORS[2], false));

  // graphics: titles, letters, legends
  const T = (text: string, x: number, y: number, o: any = {}) => ({
    type: "text", x, y, rotation: o.rot ?? 0, silent: true, z: 10,
    style: { text, fontSize: o.fs ?? 8, fontFamily: FONT, fontWeight: o.bold ? "bold" : "normal", fill: o.color ?? "#222", align: o.align ?? "center", verticalAlign: "middle" },
  });
  const V = Math.PI / 2;
  const dot = (x: number, y: number, color: string, r = 2) => ({ type: "circle", shape: { cx: x, cy: y, r }, style: { fill: color }, silent: true, z: 10 });
  const seg = (x1: number, y1: number, x2: number, y2: number, color: string, w = 1.2) => ({ type: "line", shape: { x1, y1, x2, y2 }, style: { stroke: color, lineWidth: w }, silent: true, z: 10 });
  const kmKey = (x: number, y: number, color: string, band: string) => [
    { type: "rect", shape: { x, y: y - 5, width: 13, height: 10 }, style: { fill: band }, silent: true, z: 10 },
    seg(x, y, x + 13, y, color, 1.3),
    seg(x + 4.5, y, x + 8.5, y, color, 1.2),
    seg(x + 6.5, y - 2, x + 6.5, y + 2, color, 1.2),
  ];

  const graphic: any[] = [
    T("A", 2, 13, { fs: 11, bold: true, align: "left", color: "#000" }),
    T("B", 370, 13, { fs: 11, bold: true, align: "left", color: "#000" }),
    T("C", 2, 251, { fs: 11, bold: true, align: "left", color: "#000" }),
    T("G", 368, 256, { fs: 11, bold: true, align: "left", color: "#000" }),
    T("D", 2, 364, { fs: 11, bold: true, align: "left", color: "#000" }),
    T("H", 368, 359, { fs: 11, bold: true, align: "left", color: "#000" }),
    T("E", 2, 491, { fs: 11, bold: true, align: "left", color: "#000" }),
    T("I", 370, 475, { fs: 11, bold: true, align: "left", color: "#000" }),
    T("F", 2, 762, { fs: 11, bold: true, align: "left", color: "#000" }),
    T("J", 368, 762, { fs: 11, bold: true, align: "left", color: "#000" }),

    T("Partial Likelihood Deviance", 6, 112, { fs: 6.5, rot: V }),
    T("Log(\u03bb)", 181, 239, { fs: 13 }),
    T("Coefficients", 392, 102, { fs: 13, rot: V }),
    T("L1 Norm", 572, 238, { fs: 13 }),

    T("Risk score", 19, 301, { fs: 8, rot: V }),
    T("Patients (increasing risk socre)", 183, 351, { fs: 8 }),
    T("Risk score", 390, 301, { fs: 8, rot: V }),
    T("Patients (increasing risk socre)", 555, 351, { fs: 8 }),
    T("Survival time (years)", 19, 412, { fs: 7.5, rot: V }),
    T("Patients (increasing risk socre)", 183, 461, { fs: 8 }),
    T("Survival time (years)", 390, 412, { fs: 7.5, rot: V }),
    T("Patients (increasing risk socre)", 555, 462, { fs: 8 }),

    dot(44, 282, RED), T("High risk", 49, 282, { fs: 6, align: "left" }),
    dot(44, 290, BLUE), T("low Risk", 49, 290, { fs: 6, align: "left" }),
    dot(416, 282, RED), T("High risk", 421, 282, { fs: 6, align: "left" }),
    dot(416, 290, BLUE), T("low Risk", 421, 290, { fs: 6, align: "left" }),
    dot(46, 392, RED, 2.2), T("Dead", 51, 392, { fs: 7, align: "left" }),
    dot(46, 400, BLUE, 2.2), T("Alive", 51, 400, { fs: 7, align: "left" }),
    dot(417, 392, RED, 2.2), T("Dead", 422, 392, { fs: 7, align: "left" }),
    dot(417, 400, BLUE, 2.2), T("Alive", 422, 400, { fs: 7, align: "left" }),

    T("Risk", 148, 480, { fs: 8, align: "left" }),
    ...kmKey(165, 480, BLUE, BLUE_BAND),
    T("High risk", 181, 480, { fs: 8, align: "left" }),
    ...kmKey(211, 480, RED, RED_BAND),
    T("Low risk", 227, 480, { fs: 8, align: "left" }),
    T("Risk", 520, 480, { fs: 8, align: "left" }),
    ...kmKey(536, 480, BLUE, BLUE_BAND),
    T("High risk", 552, 480, { fs: 8, align: "left" }),
    ...kmKey(583, 480, RED, RED_BAND),
    T("Low risk", 599, 480, { fs: 8, align: "left" }),

    T("Survival probability", 22, 572, { fs: 9, rot: V, color: "#111" }),
    T("Time(years)", 200, 663, { fs: 9, color: "#111" }),
    T(tcgaP, 82, 613, { fs: 7.5, align: "left" }),
    T("Survival probability", 392, 572, { fs: 9, rot: V, color: "#111" }),
    T("Time(years)", 571, 663, { fs: 9, color: "#111" }),
    T(icgcP, 453, 613, { fs: 7.5, align: "left" }),
    T("Risk", 18, 704, { fs: 8.5, rot: V, color: "#111" }),
    T("Time(years)", 200, 733, { fs: 9, color: "#111" }),
    T("Risk", 390, 704, { fs: 8.5, rot: V, color: "#111" }),
    T("Time(years)", 571, 733, { fs: 9, color: "#111" }),

    T("TCGA Cohort", 186, 765, { fs: 8.5, bold: true }),
    T("TP", 21, 905, { fs: 7, rot: V }),
    T("FP", 187, 1047, { fs: 7 }),
    T("ICGC Cohort", 557, 765, { fs: 8.5, bold: true }),
    T("TP", 391, 905, { fs: 7, rot: V }),
    T("FP", 558, 1047, { fs: 7 }),
  ];
  const rocLegendY = [974, 987, 1000];
  tcgaAuc.forEach((txt, i) => {
    graphic.push(seg(206, rocLegendY[i], 222, rocLegendY[i], ROC_COLORS[i], 1.2));
    graphic.push(T(txt, 230, rocLegendY[i], { fs: 7, align: "left" }));
  });
  icgcAuc.forEach((txt, i) => {
    graphic.push(seg(577, rocLegendY[i], 594, rocLegendY[i], ROC_COLORS[i], 1.2));
    graphic.push(T(txt, 602, rocLegendY[i], { fs: 7, align: "left" }));
  });

  return {
    animation: false,
    backgroundColor: "#ffffff",
    textStyle: { fontFamily: FONT },
    grid, xAxis, yAxis, series, graphic,
  };
}

export default function App() {
  const ref = useRef<HTMLDivElement>(null);
  useEffect(() => {
    if (!ref.current) return;
    const chart = echarts.init(ref.current, null, { renderer: "svg" });
    chart.setOption(buildOption() as any);
    return () => chart.dispose();
  }, []);
  return (
    <div
      ref={ref}
      style={{ position: "absolute", left: 0, top: 0, width: 709, height: 1052, background: "#fff" }}
    />
  );
}
